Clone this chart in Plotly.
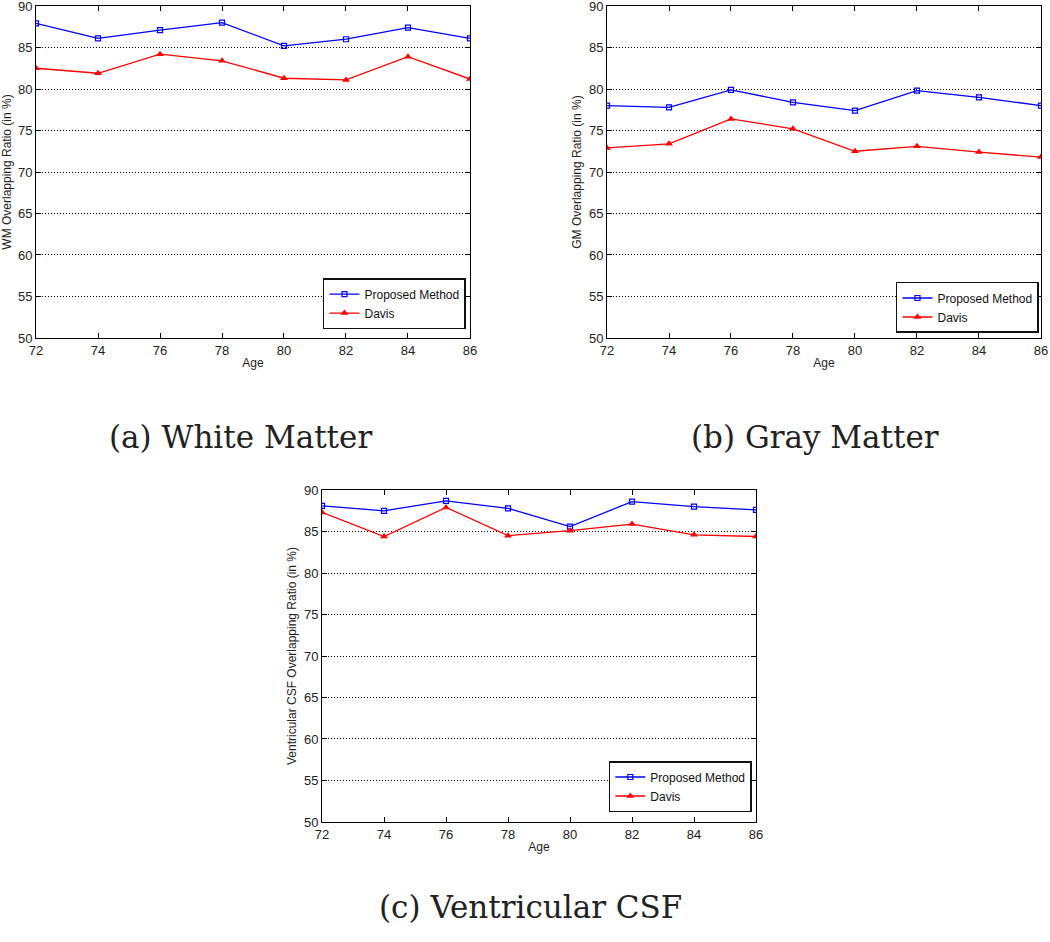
import plotly.graph_objects as go

# Ages on the x axis
ages = [72, 74, 76, 78, 80, 82, 84, 86]

# (a) White Matter
wm_proposed = [87.9, 86.1, 87.1, 88.0, 85.2, 86.0, 87.4, 86.1]
wm_davis = [82.5, 81.9, 84.2, 83.4, 81.3, 81.1, 83.9, 81.2]

# (b) Gray Matter
gm_proposed = [78.0, 77.8, 79.9, 78.4, 77.4, 79.8, 79.0, 78.0]
gm_davis = [72.9, 73.4, 76.4, 75.2, 72.5, 73.1, 72.4, 71.8]

# (c) Ventricular CSF
csf_proposed = [88.1, 87.5, 88.7, 87.8, 85.6, 88.6, 88.0, 87.6]
csf_davis = [87.3, 84.4, 87.9, 84.5, 85.1, 85.9, 84.6, 84.4]

y_ticks = [50, 55, 60, 65, 70, 75, 80, 85, 90]
y_titles = ["WM Overlapping Ratio (in %)", "GM Overlapping Ratio (in %)",
            "Ventricular CSF Overlapping Ratio (in %)"]
captions = ["(a) White Matter", "(b) Gray Matter", "(c) Ventricular CSF"]

panels = [(wm_proposed, wm_davis), (gm_proposed, gm_davis), (csf_proposed, csf_davis)]

# plot area domains (paper coords)
x_domains = [[0.0343, 0.4476], [0.5781, 0.9914], [0.3067, 0.7200]]
y_domains = [[0.6412, 0.9936], [0.6412, 0.9936], [0.1274, 0.4798]]
legend_pos = [(0.4438, 0.6507), (0.9895, 0.6465), (0.7160, 0.1380)]
caption_pos = [(0.2295, 0.536), (0.7762, 0.536), (0.5057, 0.037)]

fig = go.Figure()

for i, (prop, davis) in enumerate(panels):
    n = "" if i == 0 else str(i + 1)
    leg = "legend" if i == 0 else f"legend{i + 1}"
    fig.add_trace(go.Scatter(
        x=ages, y=prop, name="Proposed Method", mode="lines+markers",
        xaxis="x" + n, yaxis="y" + n, legend=leg,
        line=dict(color="#0000ff", width=1.3),
        marker=dict(symbol="square-open", size=5, color="#0000ff", line=dict(width=1.2)),
    ))
    fig.add_trace(go.Scatter(
        x=ages, y=davis, name="Davis", mode="lines+markers",
        xaxis="x" + n, yaxis="y" + n, legend=leg,
        line=dict(color="#ff0000", width=1.3),
        marker=dict(symbol="triangle-up", size=7, color="#ff0000"),
    ))

layout = dict(
    width=1050, height=942,
    margin=dict(l=0, r=0, t=0, b=0, autoexpand=False),
    paper_bgcolor="white", plot_bgcolor="white",
    font=dict(family="Liberation Sans, Arial, sans-serif", color="#222", size=13),
    annotations=[],
)

for i in range(3):
    n = "" if i == 0 else str(i + 1)
    layout["xaxis" + n] = dict(
        domain=x_domains[i], anchor="y" + n, range=[72, 86],
        tickvals=ages, ticks="inside", ticklen=5, tickcolor="black",
        showline=True, linecolor="black", linewidth=1, mirror="ticks",
        showgrid=False, zeroline=False, automargin=False,
        ticklabeloverflow="allow",
        title=dict(text="Age", font=dict(size=12), standoff=2),
        tickfont=dict(size=13),
    )
    layout["yaxis" + n] = dict(
        domain=y_domains[i], anchor="x" + n, range=[50, 90],
        tickvals=y_ticks, ticks="inside", ticklen=5,
        tickcolor="black", showline=True, linecolor="black", linewidth=1,
        mirror="ticks", showgrid=True, gridcolor="black", griddash="1px,2px",
        gridwidth=1, zeroline=False, automargin=False,
        ticklabeloverflow="allow",
        title=dict(text=y_titles[i], font=dict(size=12), standoff=4),
        tickfont=dict(size=13),
    )
    lx, ly = legend_pos[i]
    layout["legend" if i == 0 else f"legend{i + 1}"] = dict(
        x=lx, y=ly, xanchor="right", yanchor="bottom",
        bgcolor="white", bordercolor="#111", borderwidth=1.5,
        font=dict(size=12, color="#111"), tracegroupgap=0,
        itemwidth=30,
    )
    cx, cy = caption_pos[i]
    layout["annotations"].append(dict(
        text=captions[i], x=cx, y=cy, xref="paper", yref="paper",
        showarrow=False, xanchor="center", yanchor="middle",
        font=dict(family="DejaVu Serif, Liberation Serif, serif", size=31, color="#222"),
    ))

fig.update_layout(**layout)

# drop the default page margin so the figure starts at the window corner
fig.write_html("out.html", config={"displayModeBar": False},
               post_script="document.body.style.margin='0';")
